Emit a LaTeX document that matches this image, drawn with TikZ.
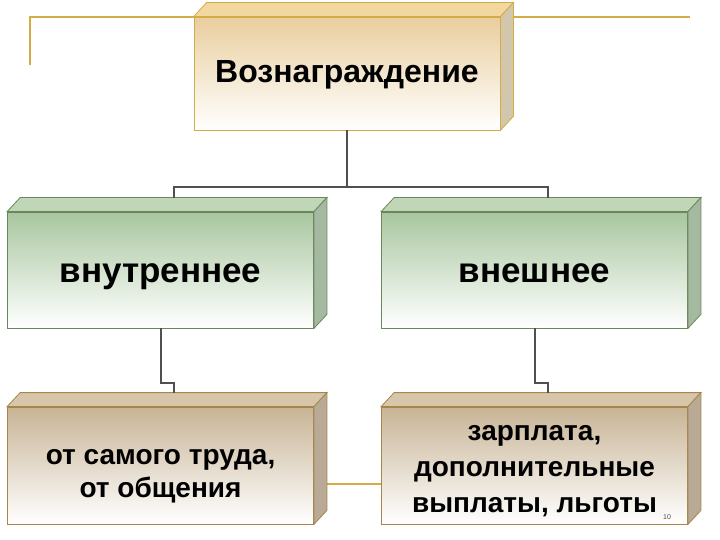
\documentclass[tikz,border=0pt]{standalone}
\usepackage{fontspec}
\setmainfont{Liberation Sans}
\usetikzlibrary{calc}
\definecolor{goldline}{RGB}{212,172,70}
\definecolor{connline}{RGB}{80,80,80}
\definecolor{tanA}{RGB}{233,206,158}
\definecolor{tanB}{RGB}{242,216,160}
\definecolor{tanC}{RGB}{210,198,172}
\definecolor{greenA}{RGB}{168,198,158}
\definecolor{greenB}{RGB}{192,214,182}
\definecolor{greenC}{RGB}{165,185,160}
\definecolor{greenD}{RGB}{105,135,95}
\definecolor{brownA}{RGB}{200,180,150}
\definecolor{brownB}{RGB}{216,198,170}
\definecolor{brownC}{RGB}{185,170,150}
\definecolor{brownD}{RGB}{165,135,75}
\tikzset{
    % front face of a box
    plate/.style={
        rectangle,
        line width=0.8pt,
        align=center,
        bottom color=white,
        inner sep=0pt
    },
    goldplate/.style={plate, draw=goldline, top color=tanA, minimum width=306pt, minimum height=113pt,
        font=\fontsize{32}{38}\selectfont\bfseries, text height=19pt, text depth=0pt},
    greenplate/.style={plate, draw=greenD, top color=greenA, minimum width=306pt, minimum height=116pt,
        font=\fontsize{35}{42}\selectfont\bfseries, text height=24pt, text depth=0pt},
    brownplate/.style={plate, draw=brownD, top color=brownA, minimum width=306pt, minimum height=117pt,
        font=\fontsize{28}{33}\selectfont\bfseries},
    conn/.style={line width=2pt, connline},
    goldconn/.style={line width=2pt, goldline}
}
% top and right faces of a box: name, top fill, side fill, border
\newcommand{\boxfaces}[4]{
    \draw[line width=0.8pt, draw=#4, fill=#2]
        (#1.north west) -- ++(13,-14) -- ($(#1.north east)+(13,-14)$) -- (#1.north east) -- cycle;
    \draw[line width=0.8pt, draw=#4, fill=#3]
        (#1.north east) -- ++(13,-14) -- ($(#1.south east)+(13,-14)$) -- (#1.south east) -- cycle;
    \coordinate (#1t) at ($(#1.north)+(13,-14)$);
}
\begin{document}
\begin{tikzpicture}[x=1pt, y=-1pt]
    \useasboundingbox (0,0) rectangle (720,540);

    % gold frame lines
    \coordinate (g1) at (30,65);
    \coordinate (g2) at (30,17);
    \coordinate (g3) at (690,17);
    \draw[goldconn] (g1) -- (g2) -- (g3);

    % boxes
    \node[goldplate] (top) at (347,73.5) {Вознаграждение};
    \boxfaces{top}{tanB}{tanC}{goldline}

    \node[greenplate] (lm) at (160.5,270) {внутреннее};
    \boxfaces{lm}{greenB}{greenC}{greenD}
    \node[greenplate] (rm) at (534.5,270) {внешнее};
    \boxfaces{rm}{greenB}{greenC}{greenD}

    \coordinate (g4) at (313,484);
    \coordinate (g5) at (381,484);
    \draw[goldconn] (g4) -- (g5);

    \node[brownplate, text height=63pt, text depth=0pt] (lb) at (160.5,465.5) {от самого труда,\\от общения};
    \boxfaces{lb}{brownB}{brownC}{brownD}
    \node[brownplate, font=\fontsize{28}{36}\selectfont\bfseries, text height=93pt, text depth=0pt]
        (rb) at (534.5,465.5) {зарплата,\\дополнительные\\выплаты, льготы};
    \boxfaces{rb}{brownB}{brownC}{brownD}

    % connectors
    \draw[conn] (top.south) -- ++(0,57) -| (lmt);
    \draw[conn] (top.south) -- ++(0,57) -| (rmt);
    \draw[conn] (lm.south) -- ++(0,55) -| (lbt);
    \draw[conn] (rm.south) -- ++(0,55) -| (rbt);

    \node[font=\fontsize{7}{8}\selectfont, text=black!70] (pg) at (667,517) {10};
\end{tikzpicture}
\end{document}
